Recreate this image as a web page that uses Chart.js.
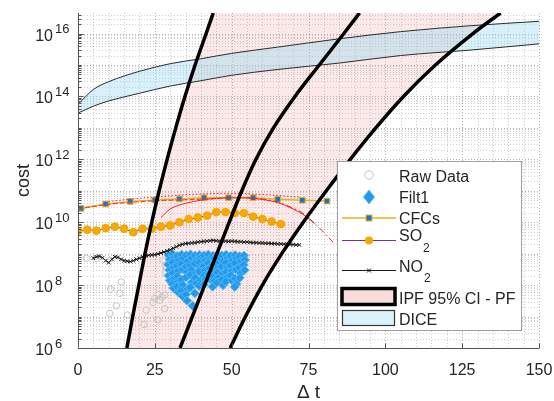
<!DOCTYPE html>
<html>
<head>
<meta charset="utf-8">
<script src="https://cdn.jsdelivr.net/npm/chart.js@4.4.1/dist/chart.umd.min.js"></script>
<style>
  html, body { margin: 0; padding: 0; background: #ffffff; }
  canvas { display: block; }
</style>
</head>
<body>
<canvas id="c" width="554" height="401"></canvas>
<script>
// ---------------- data ----------------
const xTicks = [0, 25, 50, 75, 100, 125, 150];
const yTickPowers = [6, 8, 10, 12, 14, 16];

// Raw Data (open grey circles)
const rawX = [2.7, 6.0, 10.6, 14.1, 13.6, 12.5, 10.3, 16.0, 22.2, 21.5, 26.0, 24.4, 25.0, 26.0, 26.6, 28.2, 28.2, 27.3, 28.4, 28.7, 29.3, 27.7, 28.3];
const rawY = [7.1e8, 7.1e8, 7.4e7, 1.26e8, 5.5e7, 2.2e7, 1.26e7, 1.12e7, 1.6e7, 5.6e6, 7.8e6, 2.8e7, 3.8e7, 5.0e7, 3.3e7, 4.8e7, 1.8e7, 4.2e7, 2.6e8, 3.4e8, 7.1e8, 6.2e8, 4.2e8];

// Filt1 (blue diamonds) [x, cost]
const filt1 = [
  [29.5,9e8],[29.9,6.5e8],[29.4,4.5e8],[29.8,3e8],[29.5,2e8],[29.9,1.4e8],
  [30.8,9.6e8],[31.2,7.2e8],[30.7,5.2e8],[31.1,3.6e8],[30.8,2.4e8],[31.2,1.6e8],[30.7,1.1e8],[31.1,8e7],
  [32.3,8.4e8],[32.7,6e8],[32.2,4.1e8],[32.6,2.8e8],[32.3,1.9e8],[32.7,1.3e8],[32.2,9e7],[32.6,6e7],
  [33.7,9.3e8],[34.1,6.8e8],[33.6,4.6e8],[34.0,3.2e8],[33.7,1.5e8],[34.1,1e8],[33.6,6.5e7],[34.0,4.5e7],
  [35.2,8.8e8],[35.6,5.6e8],[35.1,3.8e8],[35.5,2.6e8],[35.2,1.8e8],[35.6,7.5e7],[35.1,5e7],[35.5,3.2e7],
  [36.6,9.4e8],[37.0,7.2e8],[36.5,4.3e8],[36.9,3e8],[36.6,2.1e8],[37.0,1.2e8],[36.5,8.5e7],[37.3,2.2e7],
  [38.1,8.6e8],[38.5,6.2e8],[38.0,4.8e8],[38.4,2.4e8],[38.1,1.7e8],[38.5,1.15e8],[38.0,5.5e7],
  [39.5,9e8],[39.9,7.5e8],[39.4,5.2e8],[39.8,3.6e8],[39.5,2.7e8],[39.9,1.4e8],[39.4,9.5e7],
  [41.0,8.8e8],[41.4,6e8],[40.9,4e8],[41.3,2.9e8],[41.0,2e8],[41.4,1.5e8],[40.9,1.05e8],
  [42.4,9.3e8],[42.8,6.6e8],[42.3,5e8],[42.7,3.4e8],[42.4,2.2e8],[42.8,1.6e8],
  [43.9,8.5e8],[44.3,7e8],[43.8,4.4e8],[44.2,3.1e8],[43.9,1.9e8],[44.3,1.3e8],[43.8,9e7],
  [45.3,9.1e8],[45.7,6.4e8],[45.2,4.7e8],[45.6,3.3e8],[45.3,2.5e8],[45.7,1.7e8],[45.2,1.2e8],
  [46.8,8.7e8],[47.2,5.8e8],[46.7,3.9e8],[47.1,2.3e8],[46.8,1.5e8],[47.2,1e8],
  [48.2,9.2e8],[48.6,7.3e8],[48.1,5.1e8],[48.5,3.5e8],[48.2,2.6e8],[48.6,1.8e8],[48.1,1.3e8],
  [49.7,8.4e8],[50.1,6.1e8],[49.6,4.2e8],[50.0,2.8e8],[49.7,2e8],[50.1,1.4e8],
  [51.1,9e8],[51.5,6.9e8],[51.0,4.9e8],[51.4,3.2e8],[51.1,1.6e8],[51.5,1.1e8],[51.0,8.8e7],
  [52.6,8.2e8],[53.0,5.7e8],[52.5,3.7e8],[52.9,2.4e8],[52.6,1.7e8],
  [54.0,8.6e8],[54.3,6.3e8],[53.9,4.4e8],[54.2,3.0e8]
];

// CFCs
const cfcX = [1, 9, 17, 25, 33, 41, 49, 57, 65, 73, 81];
const cfcY = [2.75e10, 3.8e10, 4.6e10, 5.1e10, 5.5e10, 6e10, 6e10, 6e10, 5.4e10, 5e10, 4.7e10];

// SO2
const so2X = [0, 3, 6, 9, 12, 15, 18, 21, 24, 27, 30, 33, 36, 39, 42, 45, 48, 51, 54, 57, 60, 63, 66];
const so2Y = [5.25e9, 5.75e9, 5.4e9, 6.45e9, 7.2e9, 6.2e9, 4.8e9, 6.2e9, 6.2e9, 7.2e9, 7.9e9, 1e10, 1.26e10, 1.41e10, 1.62e10, 2.1e10, 2.1e10, 1.95e10, 1.95e10, 1.51e10, 1.26e10, 1.05e10, 8.7e9];

// NO2
const no2X = [5,6,7,8,9,10,11,12,13,14,15,16,17,18,19,20,21,22,23,24,25,26,27,28,29,30,31,32,33,34,35,36,37,38,39,40,41,42,43,44,45,46,47,48,49,50,51,52,53,54,55,56,57,58,59,60,61,62,63,64,65,66,67,68,69,70,71,72];
const no2Y = [7.2e8,7.9e8,8.3e8,7.4e8,6.0e8,5.2e8,6.6e8,7.9e8,7.6e8,6.6e8,6.0e8,5.75e8,5.6e8,6.0e8,6.6e8,7.2e8,7.9e8,8.5e8,8.9e8,9.1e8,9.3e8,9.8e8,1.05e9,1.12e9,1.23e9,1.32e9,1.48e9,1.66e9,1.86e9,2.0e9,2.09e9,2.14e9,2.19e9,2.24e9,2.34e9,2.4e9,2.45e9,2.5e9,2.57e9,2.63e9,2.57e9,2.5e9,2.57e9,2.5e9,2.45e9,2.5e9,2.45e9,2.4e9,2.4e9,2.34e9,2.34e9,2.29e9,2.24e9,2.24e9,2.19e9,2.19e9,2.14e9,2.14e9,2.09e9,2.09e9,2.04e9,2.04e9,2.0e9,2.0e9,1.95e9,1.95e9,1.9e9,1.9e9];

// red fitted curves
const redDotX = [10, 20, 30, 40, 50, 60, 72];
const redDotY = [4.6e10, 5.75e10, 6.9e10, 7.9e10, 8.3e10, 7.6e10, 6.3e10];
const redSolidX = [27, 30, 35, 40, 45, 50, 55, 60, 65, 70, 74, 77];
const redSolidY = [1.41e10, 2.63e10, 3.98e10, 5.0e10, 5.75e10, 6.0e10, 5.9e10, 5.25e10, 4.2e10, 2.63e10, 1.58e10, 8.9e9];
const redDashDotX = [55, 60, 65, 70, 73, 77.7, 79.8, 83];
const redDashDotY = [6.0e10, 5.5e10, 4.4e10, 2.8e10, 2.0e10, 7.9e9, 4.9e9, 2.3e9];
const redDashX = [0, 10, 20, 30, 40, 50];
const redDashY = [2.7e10, 3.7e10, 4.5e10, 5.0e10, 5.4e10, 5.8e10];

// IPF 95% CI - PF curves (cost levels and x positions)
const curveY  = [1e6, 1e7, 1e8, 1e9, 1e10, 1e11, 1e12, 1e13, 1e14, 1e15, 1e16, 4.5e16];
const ciLowX  = [15.9, 17.8, 19.8, 21.8, 24.0, 26.4, 29.0, 31.8, 34.8, 38.1, 41.7, 44.0];
const pfX     = [33.2, 37.2, 41.2, 45.2, 49.2, 53.3, 57.9, 63.6, 70.6, 78.5, 86.5, 91.6];
const ciHighX = [49.5, 54.5, 60.0, 66.3, 73.3, 80.8, 88.6, 96.9, 105.9, 116.3, 128.5, 137.5];

// DICE band
const diceX    = [0, 5, 10, 20, 30, 40, 50, 65, 85, 105, 128, 150];
const diceHigh = [5.6e13, 1.66e14, 2.95e14, 6.3e14, 1.1e15, 1.58e15, 2.34e15, 3.7e15, 6.8e15, 1.15e16, 1.78e16, 2.45e16];
const diceLow  = [2.95e13, 4.9e13, 7.2e13, 1.26e14, 2.14e14, 3.16e14, 4.7e14, 7.2e14, 1.15e15, 2e15, 3e15, 4.7e15];

// ---------------- helpers ----------------
const FONT = '"Liberation Sans", Arial, Helvetica, sans-serif';
const TXT = '#262626';
const pts = (xs, ys) => xs.map((x, i) => ({x: x, y: ys[i]}));

const pinkPoly = pts(ciLowX, curveY).concat(pts(ciHighX.slice().reverse(), curveY.slice().reverse()));

const lineDs = (data, color, width, extra) => Object.assign({
  data: data, showLine: true, borderColor: color, borderWidth: width,
  pointRadius: 0, fill: false, tension: 0
}, extra || {});

const datasets = [
  lineDs(pts(ciLowX, curveY), '#000000', 3.5, {order: 1, cubicInterpolationMode: 'monotone'}),
  lineDs(pts(pfX, curveY), '#000000', 3.5, {order: 1, cubicInterpolationMode: 'monotone'}),
  lineDs(pts(ciHighX, curveY), '#000000', 3.5, {order: 1, cubicInterpolationMode: 'monotone'}),
  lineDs(pts(redDotX, redDotY), '#ee2222', 1, {order: 2, borderDash: [1.5, 2], cubicInterpolationMode: 'monotone'}),
  lineDs(pts(redSolidX, redSolidY), '#ee2222', 1, {order: 2, cubicInterpolationMode: 'monotone'}),
  lineDs(pts(redDashDotX, redDashDotY), '#ee2222', 1, {order: 2, borderDash: [6, 3, 1.5, 3], cubicInterpolationMode: 'monotone'}),
  lineDs(pts(redDashX, redDashY), '#e84a2a', 1.2, {order: 2, borderDash: [5, 2], cubicInterpolationMode: 'monotone'}),
  {
    data: pts(cfcX, cfcY), showLine: true, borderColor: '#EDB120', borderWidth: 1.5,
    pointStyle: 'rect', pointRadius: 4, pointBackgroundColor: '#1b74c8',
    pointBorderColor: '#EDB120', pointBorderWidth: 1, order: 3
  },
  {
    data: pts(so2X, so2Y), showLine: true, borderColor: '#7E2F8E', borderWidth: 1,
    pointStyle: 'circle', pointRadius: 3.9, pointBackgroundColor: '#F5A800',
    pointBorderColor: '#F5A800', pointBorderWidth: 1, order: 4
  },
  {
    data: pts(no2X, no2Y), showLine: true, borderColor: '#1a1a1a', borderWidth: 1,
    pointStyle: 'crossRot', pointRadius: 2.6, pointBorderColor: '#1a1a1a',
    pointBorderWidth: 1, order: 5
  },
  {
    data: filt1.map(p => ({x: p[0], y: p[1]})), showLine: false,
    pointStyle: 'rectRot', pointRadius: 4.6, pointBackgroundColor: '#2499ec',
    pointBorderColor: '#55bbf4', pointBorderWidth: 1, order: 6
  },
  {
    data: pts(rawX, rawY), showLine: false, pointStyle: 'circle', pointRadius: 3.2,
    pointBackgroundColor: 'rgba(0,0,0,0)', pointBorderColor: '#c4c4c4', pointBorderWidth: 1, order: 7
  },
  lineDs(pts(diceX, diceHigh), '#2a2a2a', 1, {order: 9, fill: '+1', backgroundColor: 'rgba(150,215,238,0.38)', cubicInterpolationMode: 'monotone'}),
  lineDs(pts(diceX, diceLow), '#2a2a2a', 1, {order: 8, cubicInterpolationMode: 'monotone'}),
  lineDs(pinkPoly, 'rgba(0,0,0,0)', 0, {order: 10, fill: 'shape', backgroundColor: 'rgba(232,120,120,0.16)'})
];

// ---------------- plugins ----------------
const gridPlugin = {
  id: 'matlabGrid',
  beforeDatasetsDraw(chart) {
    const {ctx, chartArea: a, scales: {x, y}} = chart;
    ctx.save();
    ctx.lineWidth = 1;
    ctx.setLineDash([1, 2]);
    for (let v = 5; v <= 150; v += 5) {
      const px = Math.round(x.getPixelForValue(v)) + 0.5;
      ctx.strokeStyle = (v % 25 === 0) ? 'rgba(0,0,0,0.30)' : 'rgba(0,0,0,0.20)';
      ctx.beginPath(); ctx.moveTo(px, a.top); ctx.lineTo(px, a.bottom); ctx.stroke();
    }
    for (let n = 6; n <= 16; n++) {
      for (let k = 1; k <= 9; k++) {
        const v = k * Math.pow(10, n);
        if (v > y.max) break;
        const py = Math.round(y.getPixelForValue(v)) + 0.5;
        if (py > a.bottom - 1) continue;
        ctx.strokeStyle = (k === 1) ? 'rgba(0,0,0,0.30)' : 'rgba(0,0,0,0.18)';
        ctx.beginPath(); ctx.moveTo(a.left, py); ctx.lineTo(a.right, py); ctx.stroke();
      }
    }
    ctx.restore();
  },
  afterDatasetsDraw(chart) {
    const {ctx, chartArea: a, scales: {x, y}} = chart;
    ctx.save();
    ctx.setLineDash([]);
    ctx.strokeStyle = '#555555';
    ctx.lineWidth = 1;
    const L = Math.round(a.left) + 0.5, B = Math.round(a.bottom) + 0.5;
    ctx.beginPath(); ctx.moveTo(L, a.top); ctx.lineTo(L, B); ctx.lineTo(a.right, B); ctx.stroke();
    // inward ticks
    xTicks.forEach(v => {
      const px = Math.round(x.getPixelForValue(v)) + 0.5;
      ctx.beginPath(); ctx.moveTo(px, B); ctx.lineTo(px, B - 5); ctx.stroke();
    });
    for (let n = 6; n <= 16; n++) {
      for (let k = 1; k <= 9; k++) {
        const v = k * Math.pow(10, n);
        if (v > y.max) break;
        const py = Math.round(y.getPixelForValue(v)) + 0.5;
        const len = (k === 1 && n % 2 === 0) ? 5 : 3;
        ctx.beginPath(); ctx.moveTo(L, py); ctx.lineTo(L + len, py); ctx.stroke();
      }
    }
    ctx.restore();
  },
  afterDraw(chart) {
    const {ctx, chartArea: a, scales: {x, y}} = chart;
    ctx.save();
    ctx.fillStyle = TXT;
    ctx.textBaseline = 'alphabetic';
    // x tick labels
    ctx.font = '16px ' + FONT;
    ctx.textAlign = 'center';
    xTicks.forEach(v => {
      ctx.fillText(String(v), x.getPixelForValue(v), a.bottom + 26.5);
    });
    // y tick labels 10^p
    yTickPowers.forEach(p => {
      const py = y.getPixelForValue(Math.pow(10, p));
      ctx.font = '16px ' + FONT;
      ctx.textAlign = 'right';
      ctx.fillText('10', 53, py + 7);
      ctx.font = '13px ' + FONT;
      ctx.textAlign = 'left';
      ctx.fillText(String(p), 55, py - 0.5);
    });

    // ---- legend ----
    const bx = 337.5, by = 161.5, bw = 184, bh = 169;
    ctx.fillStyle = '#ffffff';
    ctx.fillRect(bx, by, bw, bh);
    ctx.strokeStyle = '#a0a0a0';
    ctx.lineWidth = 1;
    ctx.strokeRect(bx, by, bw, bh);
    const x0 = 342, x1 = 396, mx = 369, tx = 399;
    ctx.font = '16px ' + FONT;
    ctx.textAlign = 'left';
    ctx.fillStyle = TXT;
    // Raw Data
    ctx.beginPath(); ctx.arc(mx, 175, 4.2, 0, Math.PI * 2);
    ctx.strokeStyle = '#c4c4c4'; ctx.stroke();
    ctx.fillText('Raw Data', tx, 181.5);
    // Filt1
    ctx.beginPath();
    ctx.moveTo(mx, 190); ctx.lineTo(mx + 5.5, 197); ctx.lineTo(mx, 204); ctx.lineTo(mx - 5.5, 197); ctx.closePath();
    ctx.fillStyle = '#2499ec'; ctx.fill();
    ctx.strokeStyle = '#55bbf4'; ctx.stroke();
    ctx.fillStyle = TXT;
    ctx.fillText('Filt1', tx, 202.5);
    // CFCs
    ctx.strokeStyle = '#EDB120'; ctx.lineWidth = 1.5;
    ctx.beginPath(); ctx.moveTo(x0, 218); ctx.lineTo(x1, 218); ctx.stroke();
    ctx.fillStyle = '#1b74c8'; ctx.fillRect(mx - 3, 215, 6, 6);
    ctx.lineWidth = 1; ctx.strokeRect(mx - 3, 215, 6, 6);
    ctx.fillStyle = TXT;
    ctx.fillText('CFCs', tx, 223.5);
    // SO2
    ctx.strokeStyle = '#7E2F8E'; ctx.lineWidth = 1;
    ctx.beginPath(); ctx.moveTo(x0, 240.5); ctx.lineTo(x1, 240.5); ctx.stroke();
    ctx.beginPath(); ctx.arc(mx, 240.5, 4, 0, Math.PI * 2);
    ctx.fillStyle = '#F5A800'; ctx.fill();
    ctx.fillStyle = TXT;
    ctx.font = '16px ' + FONT;
    ctx.fillText('SO', tx, 241);
    let w = ctx.measureText('SO').width;
    ctx.font = '12px ' + FONT;
    ctx.fillText('2', tx + w + 1, 252);
    // NO2
    ctx.strokeStyle = '#1a1a1a';
    ctx.beginPath(); ctx.moveTo(x0, 270.5); ctx.lineTo(x1, 270.5); ctx.stroke();
    ctx.beginPath();
    ctx.moveTo(mx - 2, 268.5); ctx.lineTo(mx + 2, 272.5);
    ctx.moveTo(mx + 2, 268.5); ctx.lineTo(mx - 2, 272.5); ctx.stroke();
    ctx.font = '16px ' + FONT;
    ctx.fillText('NO', tx, 272);
    w = ctx.measureText('NO').width;
    ctx.font = '12px ' + FONT;
    ctx.fillText('2', tx + w + 1, 282);
    // IPF
    ctx.fillStyle = '#f9dcdc';
    ctx.fillRect(342, 288.5, 53, 16);
    ctx.strokeStyle = '#000000'; ctx.lineWidth = 3.5;
    ctx.strokeRect(342, 288.5, 53, 16);
    ctx.fillStyle = TXT;
    ctx.font = '16px ' + FONT;
    ctx.fillText('IPF 95% CI - PF', tx, 304);
    // DICE
    ctx.fillStyle = '#dcf2fa';
    ctx.fillRect(342.5, 310.5, 52, 15);
    ctx.strokeStyle = '#333333'; ctx.lineWidth = 1.2;
    ctx.strokeRect(342.5, 310.5, 52, 15);
    ctx.fillStyle = TXT;
    ctx.fillText('DICE', tx, 324.5);
    ctx.restore();
  }
};

// ---------------- chart ----------------
new Chart(document.getElementById('c').getContext('2d'), {
  type: 'scatter',
  data: {datasets: datasets},
  options: {
    responsive: false,
    animation: false,
    events: [],
    layout: {padding: {top: 13, right: 15, left: 0, bottom: 0}},
    plugins: {legend: {display: false}, tooltip: {enabled: false}},
    scales: {
      x: {
        type: 'linear', min: 0, max: 150,
        afterBuildTicks: (s) => { s.ticks = xTicks.map(v => ({value: v})); },
        afterFit: (s) => { s.height = 53; },
        grid: {display: false, drawTicks: false},
        border: {display: false},
        ticks: {display: false},
        title: {display: true, text: 'Δ t', color: TXT, font: {family: FONT, size: 19, lineHeight: 0.9}, padding: {top: 0, bottom: 0}}
      },
      y: {
        type: 'logarithmic', min: 1e6, max: 4.5e16,
        afterFit: (s) => { s.width = 78; },
        grid: {display: false, drawTicks: false},
        border: {display: false},
        ticks: {display: false},
        title: {display: true, text: 'cost', color: TXT, font: {family: FONT, size: 18}, padding: {top: 13, bottom: 0}}
      }
    }
  },
  plugins: [gridPlugin]
});
</script>
</body>
</html>
